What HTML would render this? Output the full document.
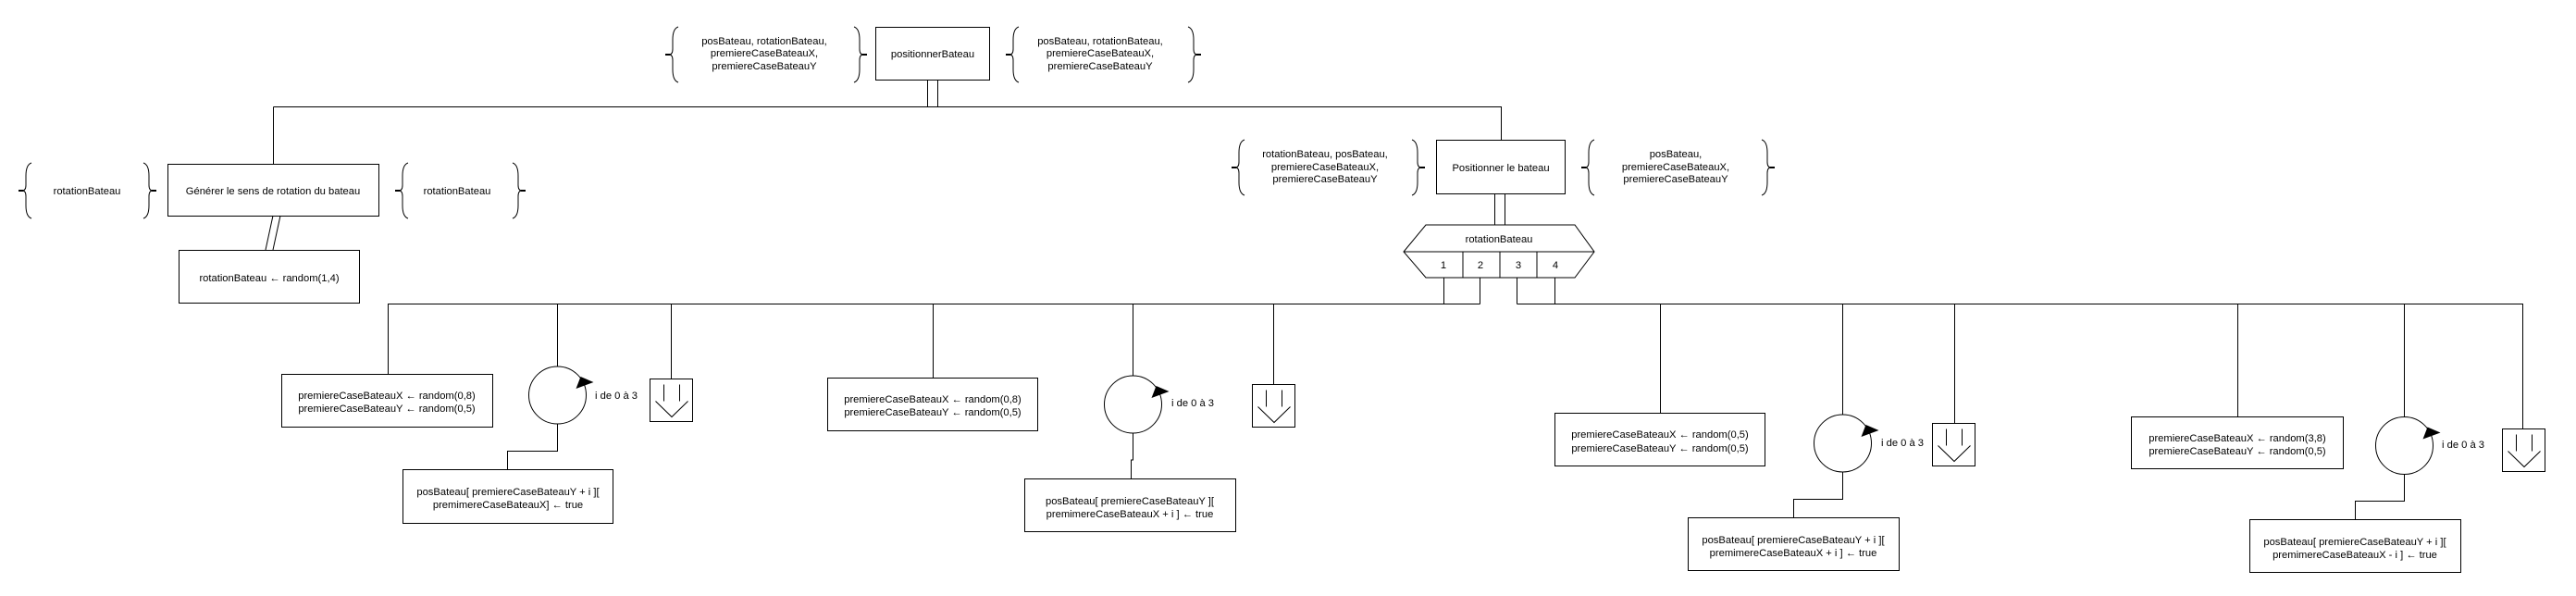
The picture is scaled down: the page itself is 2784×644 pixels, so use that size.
<!DOCTYPE html>
<html><head><meta charset="utf-8"><style>
html,body{margin:0;padding:0;background:#fff;}
svg{display:block;}
text{font-family:"Liberation Sans",sans-serif;font-size:11.2px;fill:#000;}
</style></head><body>
<svg width="2784" height="644" viewBox="0 0 2784 644" xmlns="http://www.w3.org/2000/svg">
<defs>
<g id="lb"><path d="M6,0 Q0,2 0,14 L0,24 Q0,30 -4,30 Q0,30 0,36 L0,46 Q0,58 6,60" fill="none" stroke="#000" stroke-width="1"/><path d="M-8,30 L-3,30" stroke="#000" stroke-width="2"/></g>
<g id="rb"><path d="M-6,0 Q0,2 0,14 L0,24 Q0,30 4,30 Q0,30 0,36 L0,46 Q0,58 -6,60" fill="none" stroke="#000" stroke-width="1"/><path d="M3,30 L8,30" stroke="#000" stroke-width="2"/></g>
<g id="arr"><rect x="0" y="0" width="46" height="46" fill="#fff" stroke="#000"/><path d="M15,6 V24 M32,6 V24 M6,24 L23.5,41 L41,24" fill="none" stroke="#000"/></g>
<g id="loop"><circle cx="0" cy="0" r="31" fill="#fff" stroke="#000"/><path d="M25,-20 L39,-14 L20,-7 Z" fill="#000"/></g>
</defs>
<g fill="none" stroke="#000" stroke-width="1">
<rect x="946.5" y="29.5" width="123" height="57"/>
<path d="M1002.5,86 V115 M1013.5,86 V115"/>
<path d="M295.5,115.5 H1622.5 V151"/>
<path d="M295.5,115.5 V177"/>
<rect x="181.5" y="177.5" width="228" height="56"/>
<path d="M295,233 L287,270 M303,233 L295,270"/>
<rect x="193.5" y="270.5" width="195" height="57"/>
<rect x="1552.5" y="151.5" width="139" height="58"/>
<path d="M1615.5,209 V243 M1626.5,209 V243"/>
<path d="M1541,243 H1702 L1723,272 L1702,300 H1541 L1517,272 Z"/>
<path d="M1517,272 H1723 M1581,272 V300 M1621,272 V300 M1661,272 V300"/>
<path d="M1560.5,300 V328.5 M1599.5,300 V328.5 M1639.5,300 V328.5 M1680.5,300 V328.5"/>
<path d="M419.5,328.5 H1599.5 M1639.5,328.5 H2726.5"/>
<path d="M419.5,328 V404"/>
<rect x="304.5" y="404.5" width="228" height="57"/>
<path d="M602.5,328 V396 M602.5,458 V487.5 H548.5 V507"/>
<rect x="435.5" y="507.5" width="227" height="58"/>
<path d="M725.5,328 V409"/>
<path d="M1008.5,328 V408"/>
<rect x="894.5" y="408.5" width="227" height="57"/>
<path d="M1224.5,328 V406 M1224.5,468 V497 H1222.5 V517"/>
<rect x="1107.5" y="517.5" width="228" height="57"/>
<path d="M1376.5,328 V415"/>
<path d="M1794.5,328 V446"/>
<rect x="1680.5" y="446.5" width="227" height="57"/>
<path d="M1991.5,328 V448 M1991.5,510 V539.5 H1938.5 V559"/>
<rect x="1824.5" y="559.5" width="228" height="57"/>
<path d="M2112.5,328 V457"/>
<path d="M2418.5,328 V450"/>
<rect x="2303.5" y="450.5" width="229" height="56"/>
<path d="M2598.5,328 V450 M2598.5,513 V541.5 H2545.5 V561"/>
<rect x="2431.5" y="561.5" width="228" height="57"/>
<path d="M2726.5,328 V463"/>
</g>
<use href="#loop" x="602.5" y="427"/>
<use href="#loop" x="1224.5" y="437"/>
<use href="#loop" x="1991.5" y="479"/>
<use href="#loop" x="2598.5" y="481.5"/>
<use href="#arr" x="702.5" y="409.5"/>
<use href="#arr" x="1353.5" y="415.5"/>
<use href="#arr" x="2088.5" y="457.5"/>
<use href="#arr" x="2704.5" y="463.5"/>
<use href="#lb" x="727" y="29"/><use href="#rb" x="929" y="29"/>
<use href="#lb" x="1095" y="29"/><use href="#rb" x="1290" y="29"/>
<use href="#lb" x="28" y="176"/><use href="#rb" x="161" y="176"/>
<use href="#lb" x="435" y="176"/><use href="#rb" x="560" y="176"/>
<use href="#lb" x="1339" y="151"/><use href="#rb" x="1532" y="151"/>
<use href="#lb" x="1717" y="151"/><use href="#rb" x="1910" y="151"/>
<g text-anchor="middle">
<text x="826" y="48">posBateau, rotationBateau,</text>
<text x="826" y="61">premiereCaseBateauX,</text>
<text x="826" y="75">premiereCaseBateauY</text>
<text x="1008" y="62">positionnerBateau</text>
<text x="1189" y="48">posBateau, rotationBateau,</text>
<text x="1189" y="61">premiereCaseBateauX,</text>
<text x="1189" y="75">premiereCaseBateauY</text>
<text x="94" y="210">rotationBateau</text>
<text x="295" y="210">Générer le sens de rotation du bateau</text>
<text x="494" y="210">rotationBateau</text>
<text x="291" y="304">rotationBateau ← random(1,4)</text>
<text x="1432" y="170">rotationBateau, posBateau,</text>
<text x="1432" y="184">premiereCaseBateauX,</text>
<text x="1432" y="197">premiereCaseBateauY</text>
<text x="1622" y="185">Positionner le bateau</text>
<text x="1811" y="170">posBateau,</text>
<text x="1811" y="184">premiereCaseBateauX,</text>
<text x="1811" y="197">premiereCaseBateauY</text>
<text x="1620" y="262">rotationBateau</text>
<text x="1560" y="290">1</text><text x="1600" y="290">2</text><text x="1641" y="290">3</text><text x="1681" y="290">4</text>
<text x="418" y="431">premiereCaseBateauX ← random(0,8)</text>
<text x="418" y="445">premiereCaseBateauY ← random(0,5)</text>
<text x="549" y="535">posBateau[ premiereCaseBateauY + i ][</text>
<text x="549" y="549">premimereCaseBateauX] ← true</text>
<text x="1008" y="435">premiereCaseBateauX ← random(0,8)</text>
<text x="1008" y="449">premiereCaseBateauY ← random(0,5)</text>
<text x="1221" y="545">posBateau[ premiereCaseBateauY ][</text>
<text x="1221" y="559">premimereCaseBateauX + i ] ← true</text>
<text x="1794" y="473">premiereCaseBateauX ← random(0,5)</text>
<text x="1794" y="488">premiereCaseBateauY ← random(0,5)</text>
<text x="1938" y="587">posBateau[ premiereCaseBateauY + i ][</text>
<text x="1938" y="601">premimereCaseBateauX + i ] ← true</text>
<text x="2418" y="477">premiereCaseBateauX ← random(3,8)</text>
<text x="2418" y="491">premiereCaseBateauY ← random(0,5)</text>
<text x="2545" y="589">posBateau[ premiereCaseBateauY + i ][</text>
<text x="2545" y="603">premimereCaseBateauX - i ] ← true</text>
</g>
<text x="643" y="431">i de 0 à 3</text>
<text x="1266" y="439">i de 0 à 3</text>
<text x="2033" y="482">i de 0 à 3</text>
<text x="2639" y="484">i de 0 à 3</text>
</svg>
</body></html>
